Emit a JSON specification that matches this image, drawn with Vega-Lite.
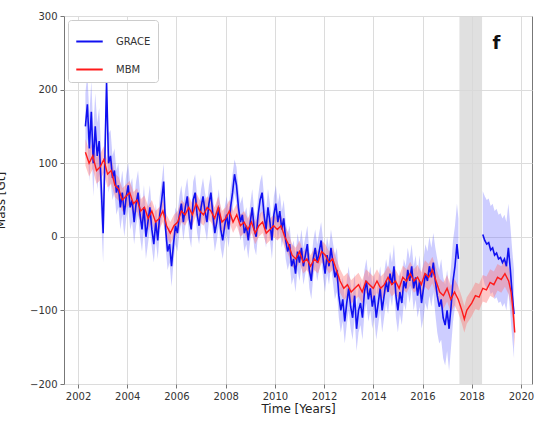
{
  "$schema": "https://vega.github.io/schema/vega-lite/v6.json",
  "width": 468,
  "height": 368,
  "autosize": {"type": "none"},
  "padding": {"left": 64, "top": 16, "right": 12, "bottom": 47},
  "background": "white",
  "title": {"text": "Northeast Greenland (NE)", "fontSize": 12, "fontWeight": "normal", "font": "DejaVu Sans", "offset": 9, "baseline": "alphabetic", "color": "#333"},
  "config": {
    "view": {"stroke": "#777", "strokeWidth": 1},
    "axis": {"labelFont": "DejaVu Sans", "titleFont": "DejaVu Sans", "labelFontSize": 10, "titleFontSize": 12, "titleFontWeight": "normal", "labelColor": "#333", "titleColor": "#222", "gridColor": "#dcdcdc", "gridWidth": 1, "tickColor": "#777", "tickSize": 4, "domain": false, "grid": true},
    "legend": {"labelFont": "DejaVu Sans"}
  },
  "datasets": {
    "grace": [
      {"t":2002.30,"v":150,"lo":105,"hi":195,"s":1},{"t":2002.38,"v":180,"lo":135,"hi":222,"s":1},{"t":2002.46,"v":120,"lo":75,"hi":165,"s":1},{"t":2002.54,"v":170,"lo":125,"hi":212,"s":1},
      {"t":2002.62,"v":100,"lo":55,"hi":145,"s":1},{"t":2002.70,"v":150,"lo":105,"hi":195,"s":1},{"t":2002.78,"v":110,"lo":65,"hi":155,"s":1},{"t":2002.86,"v":130,"lo":85,"hi":175,"s":1},
      {"t":2002.94,"v":70,"lo":25,"hi":115,"s":1},{"t":2003.02,"v":5,"lo":-35,"hi":45,"s":1},{"t":2003.10,"v":120,"lo":80,"hi":160,"s":1},{"t":2003.16,"v":210,"lo":170,"hi":225,"s":1},
      {"t":2003.24,"v":100,"lo":60,"hi":140,"s":1},{"t":2003.32,"v":110,"lo":75,"hi":145,"s":1},{"t":2003.40,"v":80,"lo":50,"hi":110,"s":1},{"t":2003.48,"v":90,"lo":60,"hi":120,"s":1},
      {"t":2003.56,"v":60,"lo":30,"hi":90,"s":1},{"t":2003.64,"v":70,"lo":40,"hi":100,"s":1},{"t":2003.72,"v":40,"lo":10,"hi":70,"s":1},{"t":2003.80,"v":60,"lo":30,"hi":90,"s":1},
      {"t":2003.88,"v":30,"lo":0,"hi":60,"s":1},{"t":2003.96,"v":55,"lo":25,"hi":85,"s":1},{"t":2004.04,"v":70,"lo":40,"hi":100,"s":1},{"t":2004.12,"v":40,"lo":10,"hi":70,"s":1},
      {"t":2004.20,"v":50,"lo":20,"hi":80,"s":1},{"t":2004.28,"v":20,"lo":-10,"hi":50,"s":1},{"t":2004.36,"v":45,"lo":15,"hi":75,"s":1},{"t":2004.44,"v":60,"lo":30,"hi":90,"s":1},
      {"t":2004.52,"v":30,"lo":0,"hi":60,"s":1},{"t":2004.60,"v":10,"lo":-20,"hi":40,"s":1},{"t":2004.68,"v":40,"lo":10,"hi":70,"s":1},{"t":2004.76,"v":0,"lo":-30,"hi":30,"s":1},
      {"t":2004.84,"v":20,"lo":-10,"hi":50,"s":1},{"t":2004.92,"v":40,"lo":10,"hi":70,"s":1},{"t":2005.00,"v":10,"lo":-15,"hi":35,"s":1},{"t":2005.08,"v":-10,"lo":-35,"hi":15,"s":1},
      {"t":2005.16,"v":20,"lo":-5,"hi":45,"s":1},{"t":2005.24,"v":-5,"lo":-30,"hi":20,"s":1},{"t":2005.32,"v":30,"lo":5,"hi":55,"s":1},{"t":2005.40,"v":50,"lo":25,"hi":75,"s":1},
      {"t":2005.48,"v":75,"lo":50,"hi":100,"s":1},{"t":2005.56,"v":10,"lo":-15,"hi":35,"s":1},{"t":2005.64,"v":-20,"lo":-45,"hi":5,"s":1},{"t":2005.72,"v":-10,"lo":-35,"hi":15,"s":1},
      {"t":2005.80,"v":-40,"lo":-68,"hi":-12,"s":1},{"t":2005.88,"v":-10,"lo":-35,"hi":15,"s":1},{"t":2005.96,"v":15,"lo":-10,"hi":40,"s":1},{"t":2006.04,"v":5,"lo":-20,"hi":30,"s":1},
      {"t":2006.12,"v":30,"lo":5,"hi":55,"s":1},{"t":2006.20,"v":45,"lo":20,"hi":70,"s":1},{"t":2006.28,"v":20,"lo":-5,"hi":45,"s":1},{"t":2006.36,"v":40,"lo":15,"hi":65,"s":1},
      {"t":2006.44,"v":55,"lo":30,"hi":80,"s":1},{"t":2006.52,"v":25,"lo":0,"hi":50,"s":1},{"t":2006.60,"v":10,"lo":-15,"hi":35,"s":1},{"t":2006.68,"v":50,"lo":25,"hi":75,"s":1},
      {"t":2006.76,"v":60,"lo":35,"hi":85,"s":1},{"t":2006.84,"v":30,"lo":5,"hi":55,"s":1},{"t":2006.92,"v":15,"lo":-10,"hi":40,"s":1},{"t":2007.00,"v":40,"lo":15,"hi":65,"s":1},
      {"t":2007.08,"v":55,"lo":30,"hi":80,"s":1},{"t":2007.16,"v":35,"lo":10,"hi":60,"s":1},{"t":2007.24,"v":20,"lo":-5,"hi":45,"s":1},{"t":2007.32,"v":45,"lo":20,"hi":70,"s":1},
      {"t":2007.40,"v":60,"lo":35,"hi":85,"s":1},{"t":2007.48,"v":30,"lo":5,"hi":55,"s":1},{"t":2007.56,"v":5,"lo":-20,"hi":30,"s":1},{"t":2007.64,"v":20,"lo":-5,"hi":45,"s":1},
      {"t":2007.72,"v":40,"lo":15,"hi":65,"s":1},{"t":2007.80,"v":10,"lo":-15,"hi":35,"s":1},{"t":2007.88,"v":-5,"lo":-30,"hi":20,"s":1},{"t":2007.96,"v":15,"lo":-10,"hi":40,"s":1},
      {"t":2008.04,"v":30,"lo":5,"hi":55,"s":1},{"t":2008.12,"v":10,"lo":-15,"hi":35,"s":1},{"t":2008.20,"v":40,"lo":15,"hi":65,"s":1},{"t":2008.28,"v":60,"lo":35,"hi":85,"s":1},
      {"t":2008.36,"v":85,"lo":60,"hi":105,"s":1},{"t":2008.44,"v":70,"lo":45,"hi":95,"s":1},{"t":2008.52,"v":40,"lo":15,"hi":65,"s":1},{"t":2008.60,"v":20,"lo":-5,"hi":45,"s":1},
      {"t":2008.68,"v":30,"lo":5,"hi":55,"s":1},{"t":2008.76,"v":5,"lo":-20,"hi":30,"s":1},{"t":2008.84,"v":15,"lo":-10,"hi":40,"s":1},{"t":2008.92,"v":-5,"lo":-30,"hi":20,"s":1},
      {"t":2009.00,"v":20,"lo":-5,"hi":45,"s":1},{"t":2009.08,"v":40,"lo":15,"hi":65,"s":1},{"t":2009.16,"v":10,"lo":-15,"hi":35,"s":1},{"t":2009.24,"v":0,"lo":-25,"hi":25,"s":1},
      {"t":2009.32,"v":30,"lo":5,"hi":55,"s":1},{"t":2009.40,"v":50,"lo":25,"hi":75,"s":1},{"t":2009.48,"v":60,"lo":35,"hi":85,"s":1},{"t":2009.56,"v":30,"lo":5,"hi":55,"s":1},
      {"t":2009.64,"v":10,"lo":-15,"hi":35,"s":1},{"t":2009.72,"v":40,"lo":15,"hi":65,"s":1},{"t":2009.80,"v":20,"lo":-5,"hi":45,"s":1},{"t":2009.88,"v":-5,"lo":-30,"hi":20,"s":1},
      {"t":2009.96,"v":30,"lo":5,"hi":55,"s":1},{"t":2010.04,"v":45,"lo":20,"hi":70,"s":1},{"t":2010.12,"v":20,"lo":-5,"hi":45,"s":1},{"t":2010.20,"v":35,"lo":10,"hi":60,"s":1},
      {"t":2010.28,"v":10,"lo":-15,"hi":35,"s":1},{"t":2010.36,"v":25,"lo":0,"hi":50,"s":1},{"t":2010.44,"v":-5,"lo":-30,"hi":20,"s":1},{"t":2010.52,"v":-20,"lo":-45,"hi":5,"s":1},
      {"t":2010.60,"v":-10,"lo":-35,"hi":15,"s":1},{"t":2010.68,"v":-40,"lo":-65,"hi":-15,"s":1},{"t":2010.76,"v":-30,"lo":-55,"hi":-5,"s":1},{"t":2010.84,"v":-50,"lo":-75,"hi":-25,"s":1},
      {"t":2010.92,"v":-20,"lo":-45,"hi":5,"s":1},{"t":2011.00,"v":-35,"lo":-60,"hi":-10,"s":1},{"t":2011.08,"v":-15,"lo":-40,"hi":10,"s":1},{"t":2011.16,"v":-40,"lo":-65,"hi":-15,"s":1},
      {"t":2011.24,"v":-25,"lo":-50,"hi":0,"s":1},{"t":2011.32,"v":-10,"lo":-35,"hi":15,"s":1},{"t":2011.40,"v":-45,"lo":-70,"hi":-20,"s":1},{"t":2011.48,"v":-60,"lo":-85,"hi":-35,"s":1},
      {"t":2011.56,"v":-30,"lo":-55,"hi":-5,"s":1},{"t":2011.64,"v":-15,"lo":-40,"hi":10,"s":1},{"t":2011.72,"v":-35,"lo":-60,"hi":-10,"s":1},{"t":2011.80,"v":-20,"lo":-45,"hi":5,"s":1},
      {"t":2011.88,"v":-5,"lo":-30,"hi":20,"s":1},{"t":2011.96,"v":-30,"lo":-55,"hi":-5,"s":1},{"t":2012.04,"v":-50,"lo":-75,"hi":-25,"s":1},{"t":2012.12,"v":-25,"lo":-50,"hi":0,"s":1},
      {"t":2012.20,"v":-40,"lo":-65,"hi":-15,"s":1},{"t":2012.28,"v":-15,"lo":-40,"hi":10,"s":1},{"t":2012.36,"v":-35,"lo":-62,"hi":-8,"s":1},{"t":2012.44,"v":-55,"lo":-85,"hi":-25,"s":1},
      {"t":2012.52,"v":-45,"lo":-75,"hi":-15,"s":1},{"t":2012.60,"v":-80,"lo":-110,"hi":-50,"s":1},{"t":2012.68,"v":-100,"lo":-130,"hi":-70,"s":1},{"t":2012.76,"v":-85,"lo":-115,"hi":-55,"s":1},
      {"t":2012.84,"v":-115,"lo":-145,"hi":-85,"s":1},{"t":2012.92,"v":-90,"lo":-120,"hi":-60,"s":1},{"t":2013.00,"v":-70,"lo":-100,"hi":-40,"s":1},{"t":2013.08,"v":-95,"lo":-125,"hi":-65,"s":1},
      {"t":2013.16,"v":-110,"lo":-140,"hi":-80,"s":1},{"t":2013.24,"v":-80,"lo":-110,"hi":-50,"s":1},{"t":2013.32,"v":-125,"lo":-155,"hi":-95,"s":1},{"t":2013.40,"v":-100,"lo":-130,"hi":-70,"s":1},
      {"t":2013.48,"v":-90,"lo":-120,"hi":-60,"s":1},{"t":2013.56,"v":-110,"lo":-140,"hi":-80,"s":1},{"t":2013.64,"v":-75,"lo":-105,"hi":-45,"s":1},{"t":2013.72,"v":-60,"lo":-90,"hi":-30,"s":1},
      {"t":2013.80,"v":-85,"lo":-115,"hi":-55,"s":1},{"t":2013.88,"v":-70,"lo":-100,"hi":-40,"s":1},{"t":2013.96,"v":-95,"lo":-125,"hi":-65,"s":1},{"t":2014.04,"v":-80,"lo":-110,"hi":-50,"s":1},
      {"t":2014.12,"v":-110,"lo":-140,"hi":-80,"s":1},{"t":2014.20,"v":-90,"lo":-120,"hi":-60,"s":1},{"t":2014.28,"v":-70,"lo":-100,"hi":-40,"s":1},{"t":2014.36,"v":-100,"lo":-130,"hi":-70,"s":1},
      {"t":2014.44,"v":-80,"lo":-110,"hi":-50,"s":1},{"t":2014.52,"v":-60,"lo":-90,"hi":-30,"s":1},{"t":2014.60,"v":-75,"lo":-105,"hi":-45,"s":1},{"t":2014.68,"v":-50,"lo":-80,"hi":-20,"s":1},
      {"t":2014.76,"v":-65,"lo":-95,"hi":-35,"s":1},{"t":2014.84,"v":-40,"lo":-70,"hi":-10,"s":1},{"t":2014.92,"v":-80,"lo":-110,"hi":-50,"s":1},{"t":2015.00,"v":-100,"lo":-130,"hi":-70,"s":1},
      {"t":2015.08,"v":-75,"lo":-105,"hi":-45,"s":1},{"t":2015.16,"v":-90,"lo":-120,"hi":-60,"s":1},{"t":2015.24,"v":-60,"lo":-90,"hi":-30,"s":1},{"t":2015.32,"v":-70,"lo":-100,"hi":-40,"s":1},
      {"t":2015.40,"v":-45,"lo":-75,"hi":-15,"s":1},{"t":2015.48,"v":-60,"lo":-90,"hi":-30,"s":1},{"t":2015.56,"v":-40,"lo":-70,"hi":-10,"s":1},{"t":2015.64,"v":-70,"lo":-100,"hi":-40,"s":1},
      {"t":2015.72,"v":-55,"lo":-85,"hi":-25,"s":1},{"t":2015.80,"v":-80,"lo":-110,"hi":-50,"s":1},{"t":2015.88,"v":-60,"lo":-95,"hi":-25,"s":1},{"t":2015.96,"v":-90,"lo":-125,"hi":-55,"s":1},
      {"t":2016.04,"v":-70,"lo":-110,"hi":-30,"s":1},{"t":2016.12,"v":-50,"lo":-90,"hi":-10,"s":1},{"t":2016.20,"v":-60,"lo":-100,"hi":-20,"s":1},{"t":2016.28,"v":-40,"lo":-80,"hi":0,"s":1},
      {"t":2016.36,"v":-55,"lo":-95,"hi":-15,"s":1},{"t":2016.44,"v":-35,"lo":-75,"hi":5,"s":1},{"t":2016.52,"v":-60,"lo":-105,"hi":-15,"s":1},{"t":2016.60,"v":-80,"lo":-130,"hi":-30,"s":1},
      {"t":2016.68,"v":-95,"lo":-145,"hi":-45,"s":1},{"t":2016.76,"v":-85,"lo":-140,"hi":-30,"s":1},{"t":2016.84,"v":-110,"lo":-165,"hi":-55,"s":1},{"t":2016.92,"v":-120,"lo":-175,"hi":-65,"s":1},
      {"t":2017.00,"v":-100,"lo":-155,"hi":-45,"s":1},{"t":2017.08,"v":-125,"lo":-182,"hi":-70,"s":1},{"t":2017.16,"v":-95,"lo":-150,"hi":-40,"s":1},{"t":2017.24,"v":-60,"lo":-115,"hi":-5,"s":1},
      {"t":2017.32,"v":-40,"lo":-95,"hi":15,"s":1},{"t":2017.40,"v":-10,"lo":-65,"hi":45,"s":1},{"t":2017.46,"v":-30,"lo":-85,"hi":25,"s":1},
      {"t":2018.45,"v":3,"lo":-55,"hi":62,"s":2},{"t":2018.53,"v":-5,"lo":-65,"hi":55,"s":2},{"t":2018.61,"v":-10,"lo":-70,"hi":50,"s":2},{"t":2018.69,"v":-8,"lo":-68,"hi":52,"s":2},
      {"t":2018.77,"v":-18,"lo":-78,"hi":42,"s":2},{"t":2018.85,"v":-15,"lo":-75,"hi":45,"s":2},{"t":2018.93,"v":-25,"lo":-85,"hi":35,"s":2},{"t":2019.01,"v":-22,"lo":-82,"hi":38,"s":2},
      {"t":2019.09,"v":-30,"lo":-90,"hi":30,"s":2},{"t":2019.17,"v":-28,"lo":-88,"hi":32,"s":2},{"t":2019.25,"v":-35,"lo":-95,"hi":25,"s":2},{"t":2019.33,"v":-30,"lo":-90,"hi":30,"s":2},
      {"t":2019.41,"v":-40,"lo":-100,"hi":20,"s":2},{"t":2019.49,"v":-15,"lo":-75,"hi":45,"s":2},{"t":2019.57,"v":-45,"lo":-105,"hi":15,"s":2},{"t":2019.65,"v":-80,"lo":-140,"hi":-20,"s":2},
      {"t":2019.72,"v":-105,"lo":-165,"hi":-45,"s":2}
    ],
    "mbm": [
      {"t":2002.30,"v":115,"lo":97,"hi":133},{"t":2002.45,"v":100,"lo":82,"hi":118},{"t":2002.60,"v":110,"lo":92,"hi":128},{"t":2002.75,"v":90,"lo":72,"hi":108},
      {"t":2002.90,"v":95,"lo":77,"hi":113},{"t":2003.05,"v":105,"lo":87,"hi":123},{"t":2003.20,"v":85,"lo":67,"hi":103},{"t":2003.35,"v":90,"lo":72,"hi":108},
      {"t":2003.50,"v":70,"lo":54,"hi":86},{"t":2003.65,"v":65,"lo":49,"hi":81},{"t":2003.80,"v":50,"lo":34,"hi":66},{"t":2003.95,"v":55,"lo":39,"hi":71},
      {"t":2004.10,"v":60,"lo":44,"hi":76},{"t":2004.25,"v":45,"lo":29,"hi":61},{"t":2004.40,"v":50,"lo":34,"hi":66},{"t":2004.55,"v":35,"lo":19,"hi":51},
      {"t":2004.70,"v":40,"lo":24,"hi":56},{"t":2004.85,"v":25,"lo":9,"hi":41},{"t":2005.00,"v":35,"lo":20,"hi":50},{"t":2005.15,"v":20,"lo":5,"hi":35},
      {"t":2005.30,"v":25,"lo":10,"hi":40},{"t":2005.45,"v":35,"lo":20,"hi":50},{"t":2005.60,"v":15,"lo":0,"hi":30},{"t":2005.75,"v":5,"lo":-10,"hi":20},
      {"t":2005.90,"v":15,"lo":0,"hi":30},{"t":2006.05,"v":20,"lo":5,"hi":35},{"t":2006.20,"v":35,"lo":20,"hi":50},{"t":2006.35,"v":30,"lo":15,"hi":45},
      {"t":2006.50,"v":40,"lo":25,"hi":55},{"t":2006.65,"v":30,"lo":15,"hi":45},{"t":2006.80,"v":45,"lo":30,"hi":60},{"t":2006.95,"v":35,"lo":20,"hi":50},
      {"t":2007.10,"v":30,"lo":15,"hi":45},{"t":2007.25,"v":40,"lo":25,"hi":55},{"t":2007.40,"v":35,"lo":20,"hi":50},{"t":2007.55,"v":25,"lo":10,"hi":40},
      {"t":2007.70,"v":40,"lo":25,"hi":55},{"t":2007.85,"v":20,"lo":5,"hi":35},{"t":2008.00,"v":25,"lo":10,"hi":40},{"t":2008.15,"v":35,"lo":20,"hi":50},
      {"t":2008.30,"v":20,"lo":5,"hi":35},{"t":2008.45,"v":30,"lo":15,"hi":45},{"t":2008.60,"v":15,"lo":0,"hi":30},{"t":2008.75,"v":20,"lo":5,"hi":35},
      {"t":2008.90,"v":10,"lo":-5,"hi":25},{"t":2009.05,"v":20,"lo":5,"hi":35},{"t":2009.20,"v":5,"lo":-10,"hi":20},{"t":2009.35,"v":15,"lo":0,"hi":30},
      {"t":2009.50,"v":20,"lo":5,"hi":35},{"t":2009.65,"v":5,"lo":-10,"hi":20},{"t":2009.80,"v":10,"lo":-5,"hi":25},{"t":2009.95,"v":15,"lo":0,"hi":30},
      {"t":2010.10,"v":10,"lo":-5,"hi":25},{"t":2010.25,"v":15,"lo":0,"hi":30},{"t":2010.40,"v":0,"lo":-15,"hi":15},{"t":2010.55,"v":-10,"lo":-25,"hi":5},
      {"t":2010.70,"v":-25,"lo":-40,"hi":-10},{"t":2010.85,"v":-30,"lo":-45,"hi":-15},{"t":2011.00,"v":-20,"lo":-35,"hi":-5},{"t":2011.15,"v":-35,"lo":-50,"hi":-20},
      {"t":2011.30,"v":-30,"lo":-45,"hi":-15},{"t":2011.45,"v":-40,"lo":-55,"hi":-25},{"t":2011.60,"v":-30,"lo":-45,"hi":-15},{"t":2011.75,"v":-35,"lo":-50,"hi":-20},
      {"t":2011.90,"v":-20,"lo":-35,"hi":-5},{"t":2012.05,"v":-25,"lo":-40,"hi":-10},{"t":2012.20,"v":-35,"lo":-50,"hi":-20},{"t":2012.35,"v":-30,"lo":-45,"hi":-15},
      {"t":2012.50,"v":-45,"lo":-60,"hi":-30},{"t":2012.65,"v":-60,"lo":-76,"hi":-44},{"t":2012.80,"v":-70,"lo":-86,"hi":-54},{"t":2012.95,"v":-65,"lo":-81,"hi":-49},
      {"t":2013.10,"v":-75,"lo":-91,"hi":-59},{"t":2013.25,"v":-70,"lo":-86,"hi":-54},{"t":2013.40,"v":-65,"lo":-81,"hi":-49},{"t":2013.55,"v":-75,"lo":-91,"hi":-59},
      {"t":2013.70,"v":-60,"lo":-76,"hi":-44},{"t":2013.85,"v":-65,"lo":-81,"hi":-49},{"t":2014.00,"v":-70,"lo":-86,"hi":-54},{"t":2014.15,"v":-60,"lo":-76,"hi":-44},
      {"t":2014.30,"v":-70,"lo":-86,"hi":-54},{"t":2014.45,"v":-65,"lo":-81,"hi":-49},{"t":2014.60,"v":-55,"lo":-71,"hi":-39},{"t":2014.75,"v":-65,"lo":-81,"hi":-49},
      {"t":2014.90,"v":-60,"lo":-76,"hi":-44},{"t":2015.05,"v":-70,"lo":-86,"hi":-54},{"t":2015.20,"v":-55,"lo":-71,"hi":-39},{"t":2015.35,"v":-60,"lo":-76,"hi":-44},
      {"t":2015.50,"v":-50,"lo":-66,"hi":-34},{"t":2015.65,"v":-60,"lo":-76,"hi":-44},{"t":2015.80,"v":-55,"lo":-72,"hi":-38},{"t":2015.95,"v":-65,"lo":-82,"hi":-48},
      {"t":2016.10,"v":-50,"lo":-68,"hi":-32},{"t":2016.25,"v":-55,"lo":-73,"hi":-37},{"t":2016.40,"v":-45,"lo":-63,"hi":-27},{"t":2016.55,"v":-60,"lo":-78,"hi":-42},
      {"t":2016.70,"v":-75,"lo":-93,"hi":-57},{"t":2016.85,"v":-80,"lo":-98,"hi":-62},{"t":2017.00,"v":-70,"lo":-88,"hi":-52},{"t":2017.15,"v":-85,"lo":-103,"hi":-67},
      {"t":2017.30,"v":-75,"lo":-93,"hi":-57},{"t":2017.45,"v":-85,"lo":-103,"hi":-67},{"t":2017.60,"v":-100,"lo":-118,"hi":-82},{"t":2017.70,"v":-112,"lo":-130,"hi":-94},
      {"t":2017.80,"v":-100,"lo":-118,"hi":-82},{"t":2017.90,"v":-95,"lo":-113,"hi":-77},{"t":2018.00,"v":-90,"lo":-108,"hi":-72},{"t":2018.15,"v":-80,"lo":-98,"hi":-62},
      {"t":2018.30,"v":-82,"lo":-100,"hi":-64},{"t":2018.45,"v":-70,"lo":-88,"hi":-52},{"t":2018.60,"v":-72,"lo":-90,"hi":-54},{"t":2018.75,"v":-62,"lo":-80,"hi":-44},
      {"t":2018.90,"v":-65,"lo":-83,"hi":-47},{"t":2019.05,"v":-55,"lo":-73,"hi":-37},{"t":2019.20,"v":-58,"lo":-76,"hi":-40},{"t":2019.35,"v":-50,"lo":-68,"hi":-32},
      {"t":2019.50,"v":-60,"lo":-78,"hi":-42},{"t":2019.60,"v":-75,"lo":-95,"hi":-55},{"t":2019.68,"v":-100,"lo":-120,"hi":-80},{"t":2019.75,"v":-130,"lo":-150,"hi":-110}
    ],
    "gap": [{"a": 2017.5, "b": 2018.42}],
    "label": [{"x": 2019.0, "y": 262, "txt": "f"}]
  },
  "encoding": {
    "x": {"field": "t", "type": "quantitative", "scale": {"domain": [2001.43, 2020.45], "nice": false, "zero": false},
          "axis": {"values": [2002,2004,2006,2008,2010,2012,2014,2016,2018,2020], "format": "d", "title": "Time [Years]", "titlePadding": 2, "labelPadding": 3, "labelFlush": false, "grid": true}}
  },
  "layer": [
    {
      "data": {"name": "grace"},
      "mark": {"type": "area", "color": "#7070ff", "opacity": 0.35},
      "encoding": {
        "y": {"field": "lo", "type": "quantitative", "scale": {"domain": [-200, 300], "nice": false},
              "axis": {"values": [-200,-100,0,100,200,300], "grid": true, "title": "Mass [Gt]", "titlePadding": 22, "labelExpr": "replace(datum.label, '-', '−')", "labelPadding": 3}},
        "y2": {"field": "hi"},
        "detail": {"field": "s"}
      }
    },
    {
      "data": {"name": "gap"},
      "mark": {"type": "rect", "color": "#d8d8d8", "opacity": 0.8},
      "encoding": {
        "x": {"field": "a", "type": "quantitative"},
        "x2": {"field": "b"},
        "y": {"datum": -200, "type": "quantitative"},
        "y2": {"datum": 300}
      }
    },
    {
      "data": {"name": "mbm"},
      "mark": {"type": "area", "color": "#ff7070", "opacity": 0.4},
      "encoding": {
        "y": {"field": "lo", "type": "quantitative"},
        "y2": {"field": "hi"}
      }
    },
    {
      "data": {"name": "grace"},
      "mark": {"type": "line", "strokeWidth": 1.6},
      "encoding": {
        "y": {"field": "v", "type": "quantitative"},
        "detail": {"field": "s"},
        "color": {"datum": "GRACE", "type": "nominal",
                  "scale": {"domain": ["GRACE", "MBM"], "range": ["#1010f0", "#ff1a1a"]},
                  "legend": {"title": null, "orient": "top-left", "offset": 4, "symbolType": "stroke", "symbolSize": 700, "symbolStrokeWidth": 2, "labelFontSize": 10, "labelColor": "#333", "rowPadding": 8, "padding": 7, "strokeColor": "#cccccc", "fillColor": "white", "cornerRadius": 3, "labelOffset": 12}}
      }
    },
    {
      "data": {"name": "mbm"},
      "mark": {"type": "line", "strokeWidth": 1.4},
      "encoding": {
        "y": {"field": "v", "type": "quantitative"},
        "color": {"datum": "MBM", "type": "nominal"}
      }
    },
    {
      "data": {"name": "label"},
      "mark": {"type": "text", "fontSize": 18, "fontWeight": "bold", "font": "DejaVu Sans", "color": "#111"},
      "encoding": {
        "x": {"field": "x", "type": "quantitative"},
        "y": {"field": "y", "type": "quantitative"},
        "text": {"field": "txt"}
      }
    }
  ]
}
